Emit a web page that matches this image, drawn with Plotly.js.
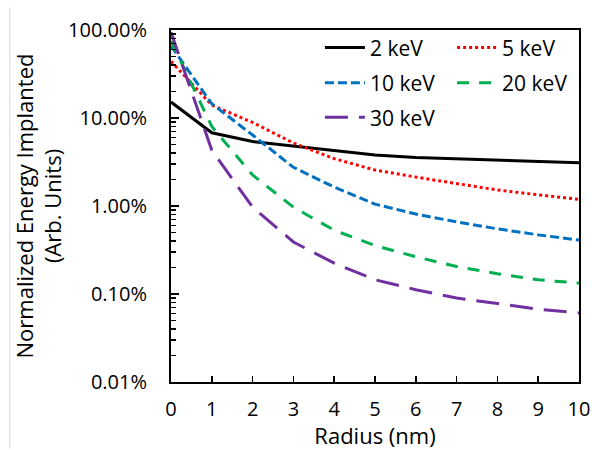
<!DOCTYPE html>
<html><head><meta charset="utf-8">
<script src="https://cdn.plot.ly/plotly-3.0.1.min.js"></script>
<style>html,body{margin:0;padding:0;background:#fff}#c{width:592px;height:450px}</style>
</head><body><div id="c"></div>
<script>
// Radius (nm)
var radius = [0, 1, 2, 3, 4, 5, 6, 7, 8, 9, 10];
// Normalized energy implanted, in percent
var e2keV  = [15.2, 6.8, 5.4, 4.8, 4.2, 3.8, 3.55, 3.42, 3.3, 3.2, 3.1];
var e5keV  = [44, 14, 8.9, 5.2, 3.45, 2.56, 2.13, 1.81, 1.52, 1.34, 1.19];
var e10keV = [66, 14.5, 6.4, 2.75, 1.64, 1.05, 0.81, 0.66, 0.55, 0.47, 0.41];
var e20keV = [75, 8, 2.25, 0.97, 0.53, 0.355, 0.265, 0.205, 0.17, 0.145, 0.133];
var e30keV = [94, 4.3, 0.97, 0.39, 0.224, 0.145, 0.112, 0.09, 0.078, 0.067, 0.061];
var seriesNames = ["2 keV", "5 keV", "10 keV", "20 keV", "30 keV"];

var FONT = "'Open Sans', 'Noto Sans', sans-serif";
var TICK_FS = 20, LEG_FS = 21, TITLE_FS = 22;
function pct(a){ return a.map(function(v){ return v/100; }); }

var styles = [
  {color:"#000000", width:3, dash:"solid"},
  {color:"#FF0000", width:3, dash:"3px,3px"},
  {color:"#0070C0", width:3, dash:"9px,4px"},
  {color:"#00B050", width:3, dash:"12px,10px"},
  {color:"#7030A0", width:3, dash:"23px,11px"}
];
var ys = [e2keV, e5keV, e10keV, e20keV, e30keV];
var legends = ["legend","legend2","legend3","legend4","legend5"];
var traces = ys.map(function(y,i){
  return {x: radius, y: pct(y), type:"scatter", mode:"lines", name: seriesNames[i],
    line: styles[i], legend: legends[i], hoverinfo:"skip"};
});

function leg(x,y){
  return {x:x, y:y, xanchor:"left", yanchor:"middle", bgcolor:"rgba(0,0,0,0)",
    borderwidth:0, itemwidth:40, font:{family:FONT, size:LEG_FS, color:"#000"}};
}
var r1=0.949, r2=0.849, r3=0.751, c1=0.365, c2=0.689;

var layout = {
  width:592, height:450,
  margin:{l:171, r:13, t:30, b:68, pad:0},
  paper_bgcolor:"#fff", plot_bgcolor:"#fff",
  font:{family:FONT, size:TICK_FS, color:"#000"},
  showlegend:true,
  legend: leg(c1,r1), legend2: leg(c2,r1), legend3: leg(c1,r2), legend4: leg(c2,r2), legend5: leg(c1,r3),
  xaxis:{
    range:[0,10], dtick:1, tick0:0, showgrid:false, zeroline:false,
    showline:true, mirror:true, linecolor:"#000", linewidth:2,
    ticks:"inside", ticklen:6, tickwidth:1.5, tickcolor:"#000",
    ticklabelstandoff:8,
    tickfont:{family:FONT, size:TICK_FS}, automargin:false,
    title:{text:"Radius (nm)", font:{family:FONT, size:TITLE_FS}, standoff:4}
  },
  yaxis:{
    type:"log", range:[-4,0], dtick:1, tickformat:".2%", showgrid:false, zeroline:false,
    showline:true, mirror:true, linecolor:"#000", linewidth:2,
    ticks:"inside", ticklen:8, tickwidth:1.5, tickcolor:"#000",
    minor:{ticks:"inside", ticklen:5, tickwidth:1.5, tickcolor:"#000", dtick:"D1", showgrid:false},
    ticklabelstandoff:18,
    tickfont:{family:FONT, size:TICK_FS}, automargin:false,
    title:{text:"Normalized Energy Implanted<br>(Arb. Units)", font:{family:FONT, size:TITLE_FS}, standoff:0}
  },
  shapes:[{type:"line", xref:"paper", yref:"paper", x0:-0.395, x1:-0.395, y0:1.065, y1:-0.19,
    line:{color:"#d9d9d9", width:1}}]
};
Plotly.newPlot("c", traces, layout, {staticPlot:true, displayModeBar:false});
</script></body></html>
